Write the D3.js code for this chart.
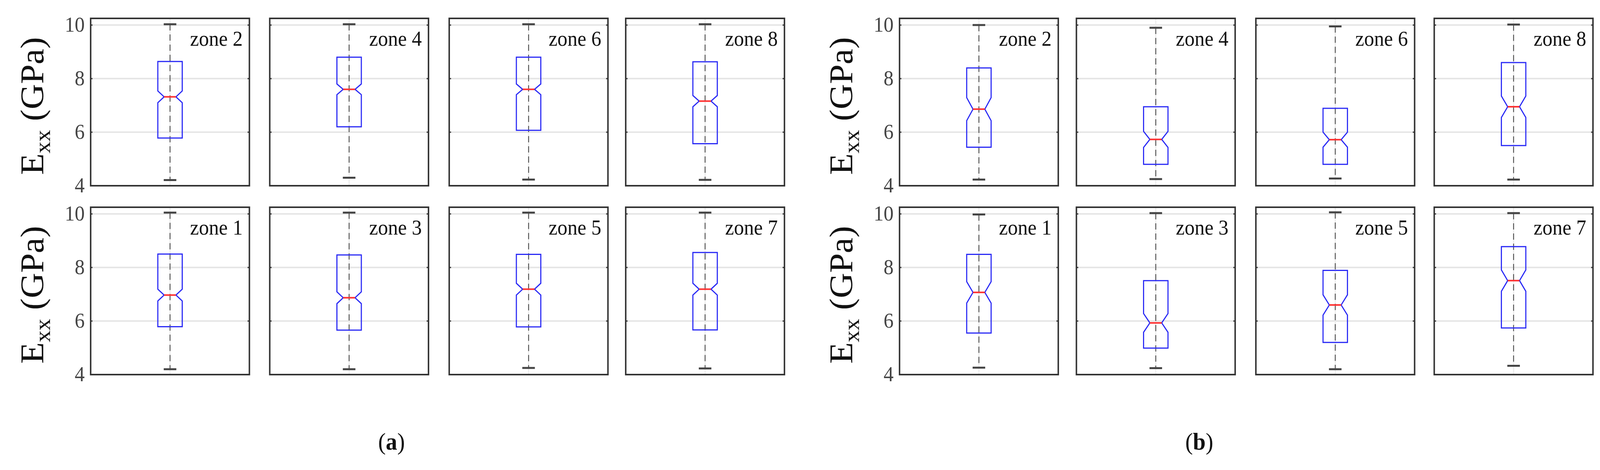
<!DOCTYPE html>
<html>
<head>
<meta charset="utf-8">
<script src="https://cdn.jsdelivr.net/npm/d3@7"></script>
<style>
html,body{margin:0;padding:0;background:#fff;overflow:hidden}
#chart{display:block;width:100vw;height:100vh}
svg text{font-family:"Liberation Serif","DejaVu Serif",serif}
</style>
</head>
<body>
<svg id="chart" viewBox="0 0 4324 1202" preserveAspectRatio="none"></svg>
<script>
// zones in the order they sit: top row then bottom row
var zones = ["zone 2","zone 4","zone 6","zone 8","zone 1","zone 3","zone 5","zone 7"]
var yTicks = [4,6,8,10]

// panel (a)
var aLow  = [4.21,4.30,4.23,4.22, 4.20,4.20,4.25,4.23]
var aQ1   = [5.78,6.20,6.07,5.57, 5.79,5.66,5.78,5.67]
var aMed  = [7.32,7.60,7.60,7.16, 6.97,6.87,7.19,7.19]
var aQ3   = [8.64,8.80,8.80,8.63, 8.50,8.47,8.49,8.56]
var aHigh = [10.03,10.03,10.03,10.03, 10.05,10.05,10.05,10.05]
var aNotch= [0.22,0.20,0.20,0.21, 0.22,0.22,0.22,0.22]

// panel (b)
var bLow  = [4.23,4.25,4.27,4.23, 4.26,4.24,4.20,4.33]
var bQ1   = [5.44,4.80,4.80,5.50, 5.55,4.99,5.20,5.74]
var bMed  = [6.86,5.73,5.72,6.95, 7.07,5.93,6.60,7.51]
var bQ3   = [8.40,6.95,6.89,8.60, 8.49,7.51,7.89,8.78]
var bHigh = [10.00,9.90,9.95,10.02, 9.98,10.03,10.06,10.03]
var bNotch= [0.43,0.30,0.28,0.40, 0.40,0.35,0.38,0.40]

var svg = d3.select("#chart")
var pw = 429, rows = [47, 530], ph = 428

function drawGroup(x0s, low, q1, med, q3, high, notch, tag, tagX){
    for (var i = 0; i < 8; i++){
        var x0 = x0s[i % 4], y0 = rows[Math.floor(i / 4)]
        var g = svg.append("g").attr("transform", "translate(" + x0 + "," + y0 + ")")
        var y = d3.scaleLinear().domain([4, 10.25]).range([ph, 0])
        var cx = pw / 2
        // grid
        g.selectAll(".grid").data([6, 8, 10]).enter().append("line")
            .attr("x1", 0).attr("x2", pw)
            .attr("y1", function(d){ return y(d) }).attr("y2", function(d){ return y(d) })
            .attr("stroke", "#e6e6e6").attr("stroke-width", 4)
        g.append("line").attr("x1", cx).attr("x2", cx).attr("y1", 0).attr("y2", ph)
            .attr("stroke", "#ececec").attr("stroke-width", 3)
        // whiskers
        g.append("line").attr("x1", cx).attr("x2", cx)
            .attr("y1", y(high[i])).attr("y2", y(low[i]))
            .attr("stroke", "#555").attr("stroke-width", 2.5).attr("stroke-dasharray", "16,10")
        ;[high[i], low[i]].forEach(function(v){
            g.append("line").attr("x1", cx - 17).attr("x2", cx + 17)
                .attr("y1", y(v)).attr("y2", y(v)).attr("stroke", "#444").attr("stroke-width", 5)
        })
        // notched box
        var bw = 33, nw = 16
        var pts = [
            [cx - bw, y(q3[i])], [cx + bw, y(q3[i])],
            [cx + bw, y(med[i] + notch[i])], [cx + nw, y(med[i])], [cx + bw, y(med[i] - notch[i])],
            [cx + bw, y(q1[i])], [cx - bw, y(q1[i])],
            [cx - bw, y(med[i] - notch[i])], [cx - nw, y(med[i])], [cx - bw, y(med[i] + notch[i])]
        ]
        g.append("path").attr("d", d3.line()(pts) + "Z")
            .attr("fill", "none").attr("stroke", "#2a2af5").attr("stroke-width", 3)
        g.append("line").attr("x1", cx - nw).attr("x2", cx + nw)
            .attr("y1", y(med[i])).attr("y2", y(med[i]))
            .attr("stroke", "#ff3030").attr("stroke-width", 4)
        // frame + ticks
        g.append("rect").attr("width", pw).attr("height", ph)
            .attr("fill", "none").attr("stroke", "#333").attr("stroke-width", 4)
        yTicks.forEach(function(t){
            g.append("line").attr("x1", 0).attr("x2", 5).attr("y1", y(t)).attr("y2", y(t)).attr("stroke", "#333").attr("stroke-width", 3)
            g.append("line").attr("x1", pw - 5).attr("x2", pw).attr("y1", y(t)).attr("y2", y(t)).attr("stroke", "#333").attr("stroke-width", 3)
        })
        g.append("text").attr("x", pw - 18).attr("y", 70).attr("text-anchor", "end")
            .attr("font-size", 54).attr("fill", "#111")
            .text(zones[i])
        if (i % 4 == 0){
            yTicks.forEach(function(t){
                g.append("text").attr("x", -16).attr("y", y(t) + 17).attr("text-anchor", "end")
                    .attr("font-size", 54).attr("fill", "#444").text(t)
            })
            var lab = g.append("text")
                .attr("transform", "translate(" + (-128) + "," + (ph / 2 + 10) + ") rotate(-90)")
                .attr("text-anchor", "middle").attr("font-size", 90).attr("fill", "#111")
            lab.append("tspan").text("E")
            lab.append("tspan").attr("font-size", 60).attr("dy", 18).text("xx")
            lab.append("tspan").attr("dy", -18).text(" (GPa)")
        }
    }
    var t = svg.append("text").attr("x", tagX).attr("y", 1150).attr("text-anchor", "middle")
        .attr("font-size", 62).attr("fill", "#111")
    t.append("tspan").text("(")
    t.append("tspan").attr("font-weight", "bold").text(tag)
    t.append("tspan").text(")")
}

drawGroup([245, 729, 1214, 1691], aLow, aQ1, aMed, aQ3, aHigh, aNotch, "a", 1058)
drawGroup([2431, 2909, 3394, 3876], bLow, bQ1, bMed, bQ3, bHigh, bNotch, "b", 3241)
</script>
</body>
</html>
